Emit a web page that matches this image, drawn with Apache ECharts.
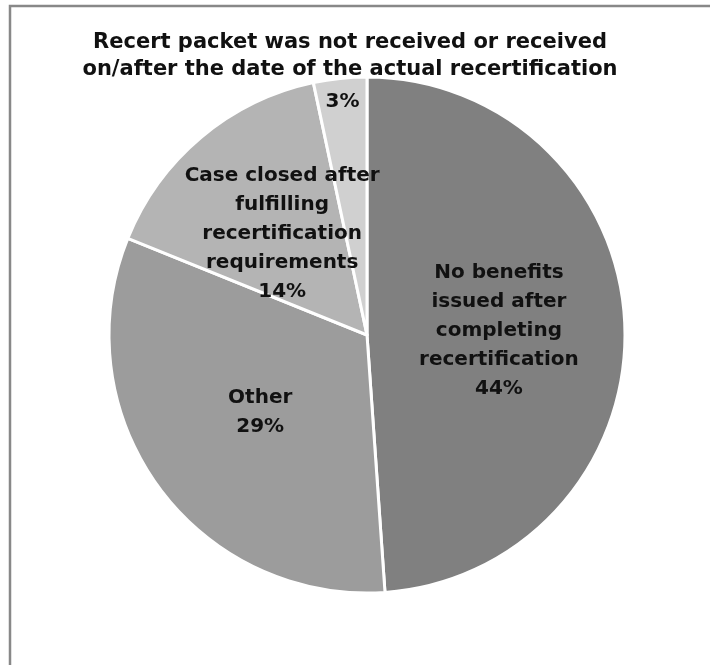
<!DOCTYPE html>
<html>
<head>
<meta charset="utf-8">
<script src="https://cdn.jsdelivr.net/npm/echarts@6/dist/echarts.min.js"></script>
<style>
  html, body { margin: 0; padding: 0; background: #fff; }
  #chart { width: 710px; height: 665px; }
</style>
</head>
<body>
<div id="chart"></div>
<script>
// Slice names (line breaks as shown in the labels) and their percentages
const categories = [
  'No benefits\nissued after\ncompleting\nrecertification',
  'Other',
  'Case closed after\nfulfilling\nrecertification\nrequirements',
  ''
];
const values = [44, 29, 14, 3];
const sliceColors = ['#808080', '#9c9c9c', '#b4b4b4', '#d0d0d0'];

const FONT = '"DejaVu Sans", "Liberation Sans", sans-serif';
const CX = 367, CY = 335, R = 258;

const chart = echarts.init(document.getElementById('chart'), null, { renderer: 'canvas' });

const data = categories.map((name, i) => ({
  name: name,
  value: values[i],
  itemStyle: { color: sliceColors[i] }
}));

chart.setOption({
  animation: false,
  backgroundColor: '#ffffff',
  title: {
    text: 'Recert packet was not received or received\non/after the date of the actual recertification',
    left: 345,
    top: 24,
    textAlign: 'center',
    textStyle: {
      fontFamily: FONT,
      fontWeight: 'bold',
      fontSize: 21,
      lineHeight: 27,
      color: '#111'
    }
  },
  graphic: [{
    type: 'rect',
    shape: { x: 10, y: 6, width: 760, height: 720 },
    style: { fill: 'none', stroke: '#888888', lineWidth: 2.5 },
    silent: true,
    z: 100
  }],
  series: [{
    type: 'pie',
    center: [CX, CY],
    radius: [0, R],
    startAngle: 90,
    clockwise: true,
    data: data,
    itemStyle: { borderColor: '#ffffff', borderWidth: 3 },
    label: {
      show: true,
      position: 'inside',
      formatter: p => (p.name ? p.name + '\n' : '') + p.value + '%',
      fontFamily: FONT,
      fontWeight: 'bold',
      fontSize: 20,
      lineHeight: 29,
      color: '#111',
      align: 'center'
    },
    labelLine: { show: false },
    // push the small slice's label out toward the rim
    labelLayout: function (params) {
      if (params.dataIndex !== 3) return {};
      const r = params.labelRect;
      const lx = r.x + r.width / 2, ly = r.y + r.height / 2;
      const k = 1.78;
      return {
        x: CX + (lx - CX) * k,
        y: CY + (ly - CY) * k
      };
    },
    emphasis: { disabled: true }
  }]
});
</script>
</body>
</html>
